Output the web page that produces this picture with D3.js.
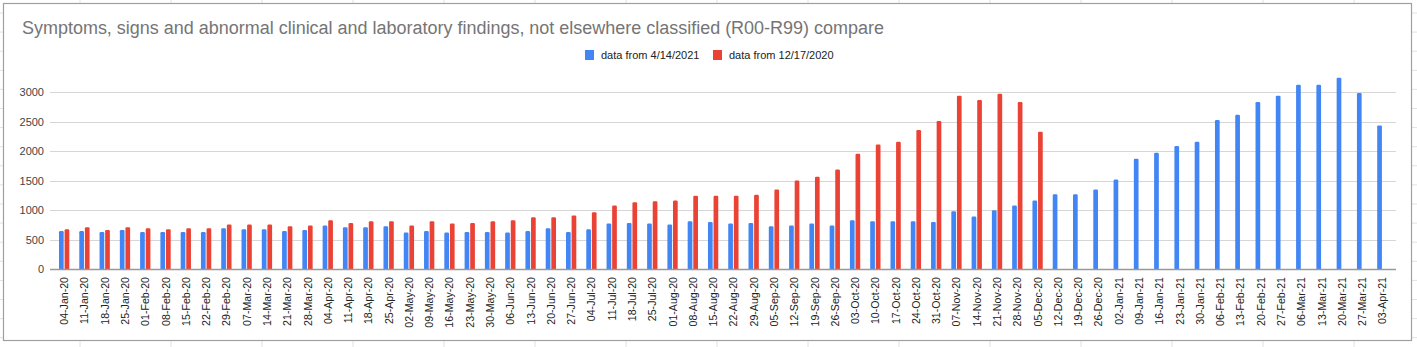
<!DOCTYPE html>
<html><head><meta charset="utf-8">
<script src="https://cdn.jsdelivr.net/npm/d3@7"></script>
<style>html,body{margin:0;padding:0;background:#fff;}svg{display:block;}</style>
</head><body>
<svg id="c" width="1417" height="347"></svg>
<script>
const categories = ["04-Jan-20","11-Jan-20","18-Jan-20","25-Jan-20","01-Feb-20","08-Feb-20","15-Feb-20","22-Feb-20","29-Feb-20","07-Mar-20","14-Mar-20","21-Mar-20","28-Mar-20","04-Apr-20","11-Apr-20","18-Apr-20","25-Apr-20","02-May-20","09-May-20","16-May-20","23-May-20","30-May-20","06-Jun-20","13-Jun-20","20-Jun-20","27-Jun-20","04-Jul-20","11-Jul-20","18-Jul-20","25-Jul-20","01-Aug-20","08-Aug-20","15-Aug-20","22-Aug-20","29-Aug-20","05-Sep-20","12-Sep-20","19-Sep-20","26-Sep-20","03-Oct-20","10-Oct-20","17-Oct-20","24-Oct-20","31-Oct-20","07-Nov-20","14-Nov-20","21-Nov-20","28-Nov-20","05-Dec-20","12-Dec-20","19-Dec-20","26-Dec-20","02-Jan-21","09-Jan-21","16-Jan-21","23-Jan-21","30-Jan-21","06-Feb-21","13-Feb-21","20-Feb-21","27-Feb-21","06-Mar-21","13-Mar-21","20-Mar-21","27-Mar-21","03-Apr-21"];
const seriesNames = ["data from 4/14/2021","data from 12/17/2020"];
const data2021 = [645,645,628,662,628,628,628,628,691,674,674,645,662,736,708,708,724,617,645,617,628,628,617,645,691,628,674,770,781,770,753,809,798,770,781,724,736,770,736,826,809,809,809,798,979,889,996,1075,1160,1268,1268,1347,1517,1868,1970,2083,2156,2524,2615,2830,2938,3124,3124,3243,2983,2434];
const data2020 = [674,708,662,708,691,674,691,691,753,753,753,724,736,826,781,809,809,736,809,770,781,809,826,877,877,906,962,1075,1132,1149,1160,1240,1240,1240,1257,1347,1500,1562,1687,1953,2111,2156,2355,2507,2938,2864,2972,2830,2326];
const yTicks = [0,500,1000,1500,2000,2500,3000];
const title = "Symptoms, signs and abnormal clinical and laboratory findings, not elsewhere classified (R00-R99) compare";
const colors = ["#4285f4","#ea4335"];

const svg = d3.select("#c");
const W = 1417, H = 347;
const FONT = "Arial, 'Liberation Sans', sans-serif";

// spreadsheet background grid
const bg = svg.append("g");
for (let x = 80; x < W; x += 91) bg.append("line").attr("x1",x).attr("x2",x).attr("y1",0).attr("y2",H).attr("stroke","#e2e2e2");
for (let y = 13; y < H; y += 19.1) bg.append("line").attr("x1",0).attr("x2",W).attr("y1",y).attr("y2",y).attr("stroke","#e2e2e2");

// chart frame
svg.append("rect").attr("x",3.5).attr("y",3.5).attr("width",1408).attr("height",337)
  .attr("fill","#fff").attr("stroke","#a0a0a0").attr("stroke-width",1.2);

const left = 54, right = 1392.5, baseY = 269, topY = 92;
const x = d3.scaleBand().domain(categories).range([left,right]).paddingInner(0).paddingOuter(0);
const y = d3.scaleLinear().domain([0,3000]).range([baseY,topY]);

// gridlines
const grid = svg.append("g");
grid.selectAll("line").data(yTicks.filter(d=>d>0)).join("line")
  .attr("x1",50).attr("x2",1396)
  .attr("y1",d=>Math.round(y(d))+0.5).attr("y2",d=>Math.round(y(d))+0.5)
  .attr("stroke","#d6d6d6").attr("stroke-width",1);

// y axis labels
svg.append("g").selectAll("text").data(yTicks).join("text")
  .attr("x",44).attr("y",d=>y(d)+4)
  .attr("text-anchor","end").attr("font-family",FONT).attr("font-size",11).attr("fill","#444")
  .text(d=>d);

// bars
const bw = 4.7, gap = 0.9;
const step = x.bandwidth();
const groupOff = step/2 - bw - gap/2;
const bars = svg.append("g");
function barPath(x0, w, yTop, yBot){
  const r = Math.min(1.2, w/2);
  return `M${x0},${yBot}V${yTop+r}Q${x0},${yTop} ${x0+r},${yTop}H${x0+w-r}Q${x0+w},${yTop} ${x0+w},${yTop+r}V${yBot}Z`;
}
bars.selectAll("path.b").data(data2021).join("path").attr("class","b")
  .attr("d",(d,i)=>barPath(x(categories[i])+groupOff, bw, y(d), baseY))
  .attr("fill",colors[0]);
bars.selectAll("path.r").data(data2020).join("path").attr("class","r")
  .attr("d",(d,i)=>barPath(x(categories[i])+groupOff+bw+gap, bw, y(d), baseY))
  .attr("fill",colors[1]);

// baseline
svg.append("line").attr("x1",50).attr("x2",1396).attr("y1",baseY+0.5).attr("y2",baseY+0.5)
  .attr("stroke","#999").attr("stroke-width",1.6);

// x labels
svg.append("g").selectAll("text").data(categories).join("text")
  .attr("transform",d=>`translate(${x(d)+step/2+4},${277}) rotate(-90)`)
  .attr("text-anchor","end").attr("font-family",FONT).attr("font-size",10.6).attr("fill","#222")
  .text(d=>d);

// title
const t = svg.append("text").attr("x",22).attr("y",34).attr("font-family",FONT).attr("font-size",18)
  .attr("fill","#757575").text(title);
const tw = t.node().getComputedTextLength();
t.attr("font-size", 18*862/tw);

// legend
const leg = svg.append("g");
const legItems = [{x:585,c:colors[0],t:seriesNames[0]},{x:713,c:colors[1],t:seriesNames[1]}];
legItems.forEach(it=>{
  leg.append("rect").attr("x",it.x).attr("y",50).attr("width",9).attr("height",10).attr("fill",it.c);
  leg.append("text").attr("x",it.x+16).attr("y",59).attr("font-family",FONT).attr("font-size",11)
    .attr("fill","#222").text(it.t);
});
</script>
</body></html>
